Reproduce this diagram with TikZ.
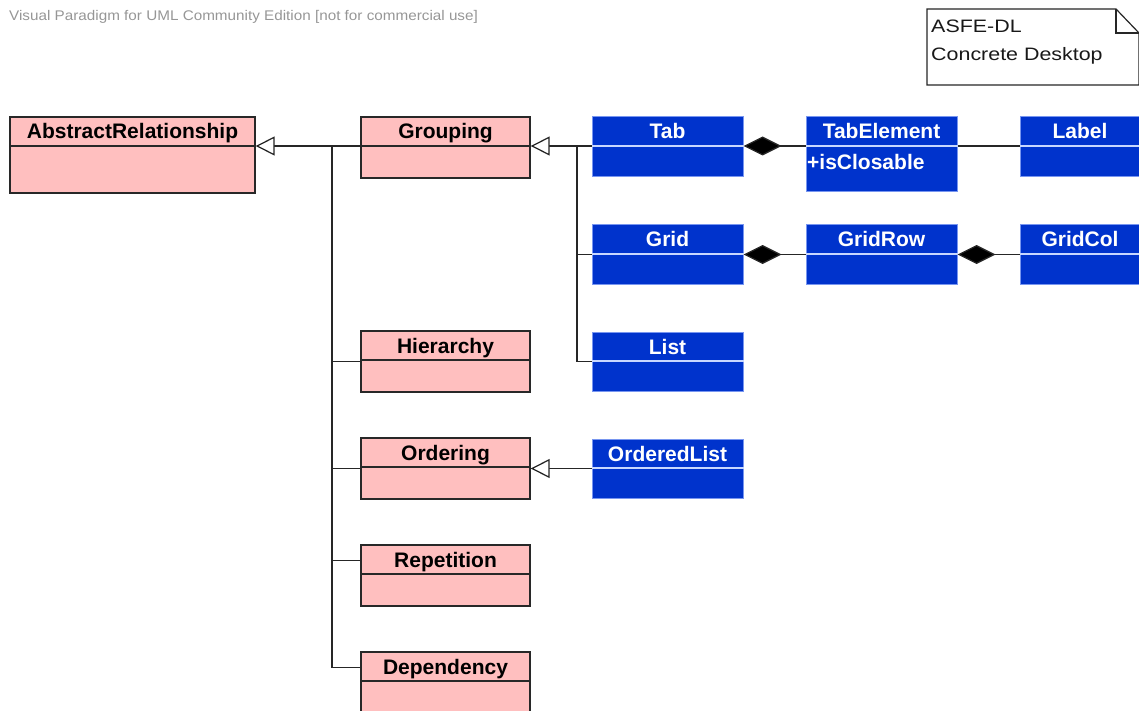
\documentclass[tikz,border=0pt]{standalone}
\usepackage{fontspec}
\setmainfont{Liberation Sans}
\newfontfamily\notefont[FakeStretch=1.19]{Liberation Sans}
\newfontfamily\wmfont[FakeStretch=1.09]{Liberation Sans}
\usetikzlibrary{arrows.meta}

\definecolor{pinkfill}{RGB}{255,191,191}
\definecolor{pinkline}{RGB}{40,40,40}
\definecolor{bluefill}{RGB}{0,51,204}
\definecolor{blueline}{RGB}{120,150,240}
\definecolor{bluediv}{RGB}{200,215,255}
\definecolor{wmgray}{RGB}{150,150,150}

% #1 name, #2 style prefix, #3 x1, #4 y1, #5 x2, #6 y2, #7 divider y, #8 title
\newcommand\umlclass[8]{%
  \node[#2cls, minimum width={#5pt-#3pt}, minimum height={#6pt-#4pt}]
    (#1) at ({(#3+#5)/2},{(#4+#6)/2}) {};
  \draw[#2div] (#1.west |- 0,#7) -- (#1.east |- 0,#7);
  \node[anchor=base, #2text] (#1-t) at ({(#3+#5)/2},{#7-7}) {#8};
}

\tikzset{
  classtitle/.style={font=\bfseries\fontsize{21}{24}\selectfont, inner sep=0pt},
  pinkcls/.style={draw=pinkline, fill=pinkfill, line width=1.3pt, inner sep=0pt},
  pinkdiv/.style={draw=pinkline, line width=1.3pt},
  pinktext/.style={classtitle, text=black},
  bluecls/.style={draw=blueline, fill=bluefill, line width=1pt, inner sep=0pt},
  bluediv/.style={draw=bluediv, line width=1.2pt},
  bluetext/.style={classtitle, text=white},
  assoc/.style={draw=black!85, line width=1.25pt},
  gen/.style={assoc, -{Triangle[open, length=19pt, width=19pt, fill=white]}},
  comp/.style={assoc, -{Diamond[length=38pt, width=19pt, fill=black]}},
}

\begin{document}
\begin{tikzpicture}[x=1pt, y=-1pt]
\useasboundingbox (0,0) rectangle (1139,711);
\clip (0,0) rectangle (1139,711);

% edition watermark
\node[anchor=base west, inner sep=0pt, text=wmgray,
      font=\wmfont\fontsize{14}{16}\selectfont] (wm) at (9,21)
  {Visual Paradigm for UML Community Edition [not for commercial use]};

% note with folded corner
\draw[line width=1.2pt, draw=black!85, fill=white]
  (927,9) -- (1116,9) -- (1139,33) -- (1139,85) -- (927,85) -- cycle;
\draw[line width=1.2pt, draw=black!85] (1116,9) -- (1116,33) -- (1139,33);
\node[anchor=base west, inner sep=0pt, text=black!90,
      font=\notefont\fontsize{18}{21}\selectfont] (note1) at (931,33) {ASFE-DL};
\node[anchor=base west, inner sep=0pt, text=black!90,
      font=\notefont\fontsize{18}{21}\selectfont] (note2) at (931,61) {Concrete Desktop};

% abstract classes
\umlclass{ar}{pink}{10}{117}{255}{193}{146}{AbstractRelationship}
\umlclass{grouping}{pink}{361}{117}{530}{178}{146}{Grouping}
\umlclass{hierarchy}{pink}{361}{331}{530}{392}{360}{Hierarchy}
\umlclass{ordering}{pink}{361}{438}{530}{499}{467}{Ordering}
\umlclass{repetition}{pink}{361}{545}{530}{606}{574}{Repetition}
\umlclass{dependency}{pink}{361}{652}{530}{713}{681}{Dependency}

% concrete classes
\umlclass{tab}{blue}{592}{117}{743}{177}{146}{Tab}
\umlclass{tabelem}{blue}{806}{117}{957}{192}{146}{TabElement}
\umlclass{label}{blue}{1020}{117}{1140}{177}{146}{Label}
\umlclass{grid}{blue}{592}{225}{743}{284}{254}{Grid}
\umlclass{gridrow}{blue}{806}{225}{957}{284}{254}{GridRow}
\umlclass{gridcol}{blue}{1020}{225}{1140}{284}{254}{GridCol}
\umlclass{list}{blue}{592}{332}{743}{391}{361}{List}
\umlclass{olist}{blue}{592}{439}{743}{498}{468}{OrderedList}
\node[anchor=base west, bluetext] (tabelem-a) at (807,170) {+isClosable};

% helper points for the connectors
\coordinate (r1) at (0,146);
\coordinate (j1) at (332,146);
\coordinate (j2) at (577,146);
\coordinate (repb) at ([yshift=-16pt]repetition.north west);
\coordinate (depb) at ([yshift=-16pt]dependency.north west);

% generalizations to AbstractRelationship
\draw[gen] (grouping.west |- r1) -- (ar.east |- r1);
\draw[assoc] (j1) |- (depb);
\draw[assoc] (hierarchy.west -| j1) -- (hierarchy.west);
\draw[assoc] (ordering.west -| j1) -- (ordering.west);
\draw[assoc] (repb -| j1) -- (repb);

% generalizations to Grouping
\draw[gen] (tab.west |- r1) -- (grouping.east |- r1);
\draw[assoc] (j2) |- (list.west);
\draw[assoc] (grid.west -| j2) -- (grid.west);

% generalization to Ordering
\draw[gen] (olist.west) -- (ordering.east);

% compositions and association
\draw[comp] (tabelem.west |- r1) -- (tab.east |- r1);
\draw[assoc] (tabelem.east |- r1) -- (label.west |- r1);
\draw[comp] (gridrow.west) -- (grid.east);
\draw[comp] (gridcol.west) -- (gridrow.east);
\end{tikzpicture}
\end{document}
